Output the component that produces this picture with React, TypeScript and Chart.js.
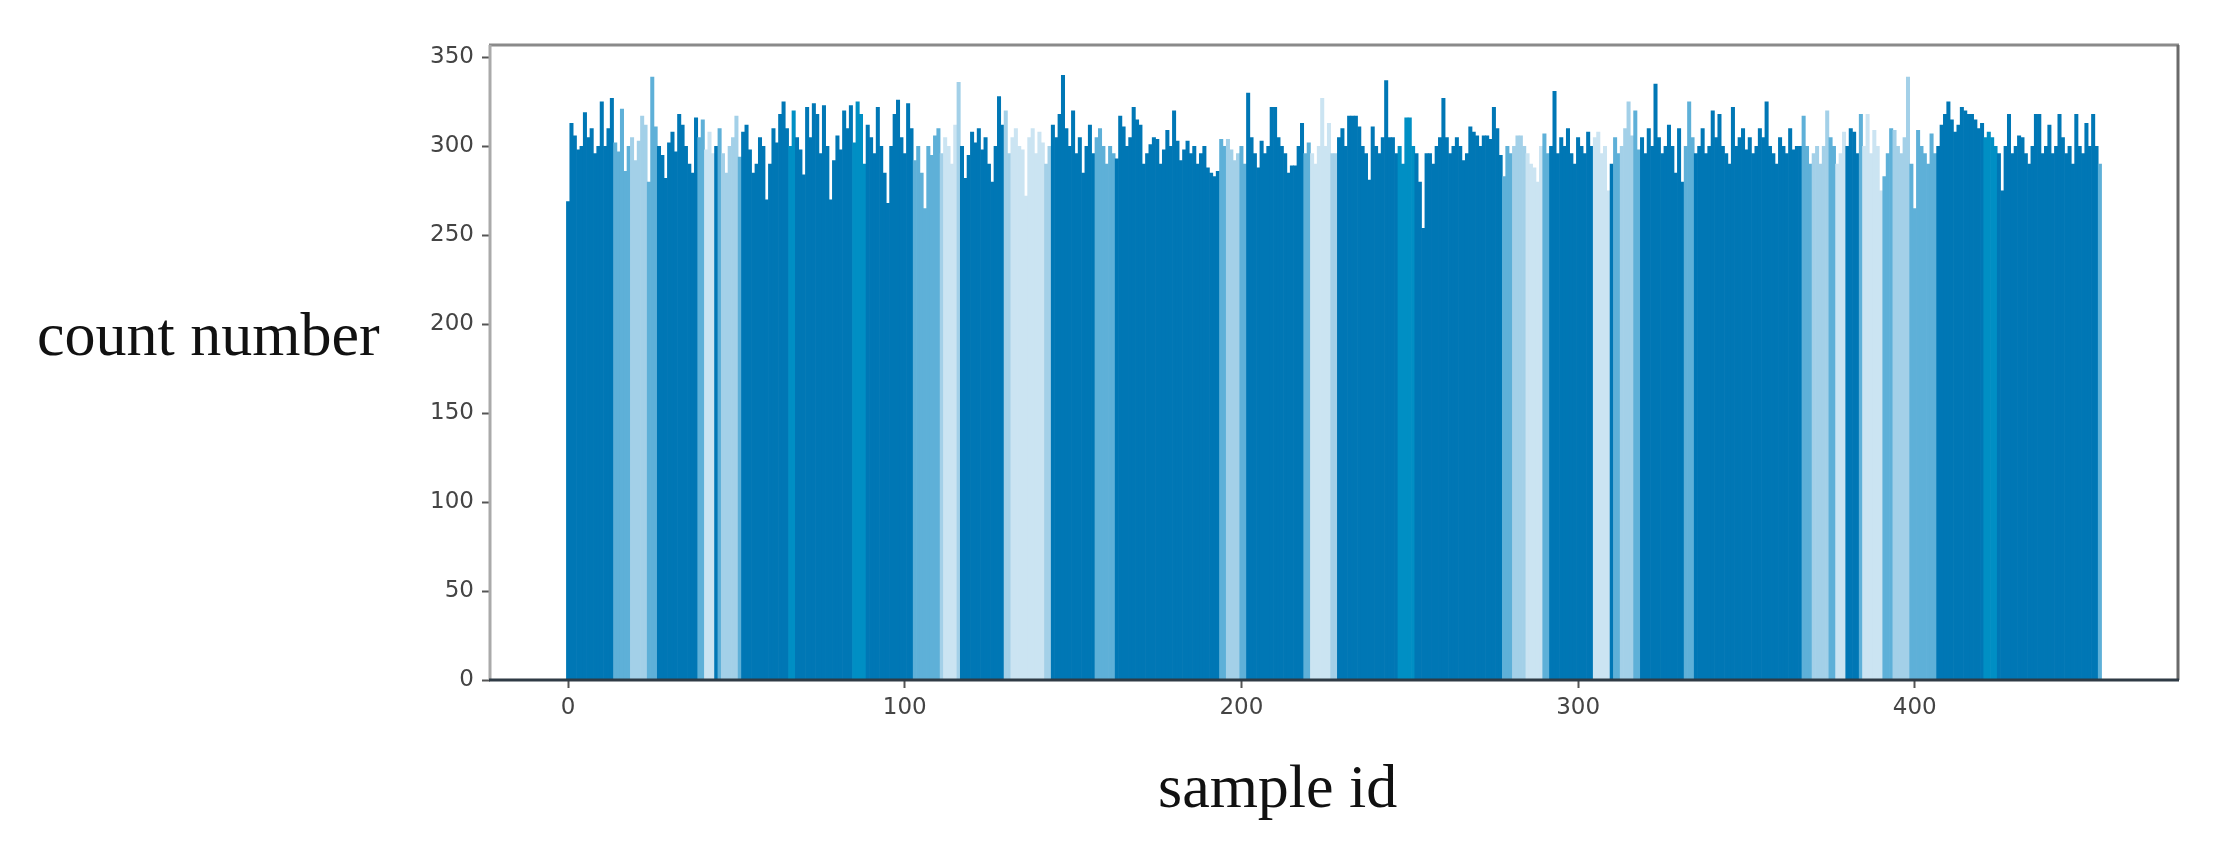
import { useEffect, useRef } from "react";
import { Chart, registerables } from "chart.js";

Chart.register(...registerables);

// count number for each sample id (0..455)
const counts: number[] = [
  269, 313, 306, 298, 300, 319, 305, 310, 296, 300,
  325, 300, 310, 327, 302, 297, 321, 286, 300, 305,
  292, 303, 317, 312, 280, 339, 311, 300, 295, 282,
  302, 308, 297, 318, 312, 300, 290, 285, 316, 305,
  315, 298, 308, 296, 300, 310, 296, 285, 300, 305,
  317, 294, 308, 312, 298, 285, 290, 305, 300, 270,
  290, 310, 302, 318, 325, 310, 300, 320, 305, 298,
  284, 322, 305, 324, 318, 296, 323, 300, 270, 292,
  306, 298, 320, 310, 323, 302, 325, 318, 290, 312,
  305, 296, 322, 300, 285, 268, 300, 318, 326, 305,
  296, 324, 310, 292, 300, 285, 265, 300, 295, 306,
  310, 296, 305, 300, 290, 312, 336, 300, 282, 295,
  308, 302, 310, 298, 305, 290, 280, 300, 328, 312,
  320, 296, 305, 310, 300, 298, 272, 305, 310, 296,
  308, 302, 290, 300, 312, 305, 318, 340, 310, 300,
  320, 296, 305, 285, 300, 312, 296, 305, 310, 300,
  290, 300, 296, 293, 317, 311, 300, 305, 322, 315,
  312, 290, 296, 301, 305, 304, 290, 298, 309, 300,
  320, 303, 292, 298, 303, 296, 300, 290, 296, 300,
  288, 285, 283, 286, 304, 300, 304, 298, 292, 296,
  300, 290, 330, 305, 296, 288, 303, 296, 300, 322,
  322, 305, 300, 296, 285, 289, 289, 300, 313, 296,
  302, 296, 290, 300, 327, 300, 313, 296, 296, 305,
  310, 300, 317, 317, 317, 311, 300, 296, 281, 311,
  300, 296, 305, 337, 305, 305, 296, 300, 290, 316,
  316, 300, 296, 280, 254, 296, 296, 290, 300, 305,
  327, 305, 296, 300, 305, 300, 292, 296, 311, 308,
  306, 300, 306, 306, 304, 322, 310, 295, 283, 300,
  296, 300, 306, 306, 300, 296, 290, 288, 280, 300,
  307, 296, 300, 331, 296, 305, 300, 310, 296, 290,
  305, 300, 296, 308, 300, 305, 308, 296, 300, 275,
  290, 305, 296, 300, 310, 325, 306, 320, 298, 305,
  296, 310, 300, 335, 305, 296, 300, 312, 300, 285,
  310, 280, 300, 325, 305, 296, 300, 310, 296, 300,
  320, 305, 318, 300, 296, 290, 322, 300, 305, 310,
  298, 305, 296, 300, 310, 305, 325, 300, 296, 290,
  305, 300, 296, 310, 298, 300, 300, 317, 300, 290,
  296, 300, 290, 300, 320, 305, 300, 290, 296, 308,
  300, 310, 308, 296, 318, 300, 318, 296, 309, 300,
  275, 283, 296, 310, 309, 300, 296, 305, 339, 290,
  265, 309, 300, 296, 290, 307, 296, 300, 312, 318,
  325, 315, 308, 312, 322, 320, 318, 318, 315, 310,
  313, 305, 308, 305, 300, 296, 275, 300, 318, 296,
  300, 306, 305, 296, 290, 300, 318, 318, 296, 300,
  312, 296, 300, 318, 305, 296, 300, 290, 318, 300,
  296, 313, 300, 318, 300, 290,
];

// runs of bar shade: [shade level, number of bars]
const shadeRuns: [number, number][] = [
  [0, 14], [2, 5], [3, 5], [2, 3], [0, 12],
  [2, 2], [4, 3], [0, 1], [2, 1], [3, 5], [2, 1],
  [0, 14], [1, 2], [0, 17], [1, 4], [0, 14],
  [2, 8], [3, 1], [4, 4], [3, 1], [0, 13],
  [3, 2], [4, 10], [3, 2], [0, 13], [2, 6], [0, 31],
  [2, 2], [3, 4], [2, 2], [0, 17], [2, 2], [4, 6], [3, 2],
  [0, 18], [1, 5], [0, 26], [2, 3], [3, 4], [4, 5], [2, 2],
  [0, 13], [4, 5], [0, 1], [2, 2], [3, 4], [2, 2], [0, 13],
  [2, 3], [0, 32], [2, 3], [3, 5], [2, 2], [4, 3], [0, 4],
  [2, 1], [4, 6], [2, 3], [3, 5], [2, 8], [0, 14], [1, 4],
  [0, 30], [2, 1],
];

const shadePalette = ["#0077b5", "#008fc4", "#5eb0d8", "#a3d0e8", "#cbe4f2"];

const xTickValues = [0, 100, 200, 300, 400];
const yTickValues = [0, 50, 100, 150, 200, 250, 300, 350];

const yAxisLabel = "count number";
const xAxisLabel = "sample id";

export default function App() {
  const ref = useRef<HTMLCanvasElement>(null);

  useEffect(() => {
    document.body.style.margin = "0";
    if (!ref.current) return;

    const shades: string[] = [];
    shadeRuns.forEach(([lvl, n]) => {
      for (let k = 0; k < n; k++) shades.push(shadePalette[lvl]);
    });
    const sampleIds = counts.map((_, i) => i);

    const framePlugin = {
      id: "frameAndLabels",
      afterDatasetsDraw(chart: any) {
        const { ctx, chartArea: a } = chart;
        ctx.save();
        ctx.lineWidth = 3;
        ctx.strokeStyle = "#8a8a8a";
        ctx.beginPath();
        ctx.moveTo(a.left - 1, a.top);
        ctx.lineTo(a.right + 1, a.top);
        ctx.stroke();
        ctx.strokeStyle = "#aaaaaa";
        ctx.beginPath();
        ctx.moveTo(a.left, a.top);
        ctx.lineTo(a.left, a.bottom);
        ctx.stroke();
        ctx.strokeStyle = "#6a6a6a";
        ctx.beginPath();
        ctx.moveTo(a.right, a.top);
        ctx.lineTo(a.right, a.bottom);
        ctx.stroke();
        ctx.strokeStyle = "#2f3b45";
        ctx.beginPath();
        ctx.moveTo(a.left - 1, a.bottom);
        ctx.lineTo(a.right + 1, a.bottom);
        ctx.stroke();
        ctx.restore();
      },
      afterDraw(chart: any) {
        const { ctx } = chart;
        ctx.save();
        ctx.fillStyle = "#111111";
        ctx.font = '62px "Liberation Serif"';
        ctx.textAlign = "left";
        ctx.textBaseline = "alphabetic";
        ctx.fillText(yAxisLabel, 37, 355);
        ctx.fillText(xAxisLabel, 1158, 807);
        ctx.restore();
      },
    };

    const tickFont = { family: "DejaVu Sans", size: 23 };

    const chart = new Chart(ref.current, {
      type: "bar",
      data: {
        datasets: [
          {
            data: sampleIds.map((x, i) => ({ x, y: counts[i] })),
            backgroundColor: shades,
            borderWidth: 0,
            barPercentage: 1.0,
            categoryPercentage: 1.0,
          },
        ],
      },
      options: {
        animation: false,
        responsive: false,
        devicePixelRatio: 1,
        layout: { padding: { top: 45, right: 44, left: 0, bottom: 0 } },
        plugins: { legend: { display: false }, tooltip: { enabled: false } },
        scales: {
          x: {
            type: "linear",
            min: -23.2,
            max: 478.2,
            offset: false,
            afterFit: (s: any) => {
              s.height = 175;
            },
            afterBuildTicks: (s: any) => {
              s.ticks = xTickValues.map((v) => ({ value: v }));
            },
            ticks: {
              font: tickFont,
              color: "#444444",
              padding: 6,
              maxRotation: 0,
              autoSkip: false,
            },
            grid: {
              display: true,
              drawOnChartArea: false,
              drawTicks: true,
              tickLength: 8,
              tickColor: "#555555",
              tickWidth: 2,
              offset: false,
            },
            border: { display: false },
          },
          y: {
            type: "linear",
            min: 0,
            max: 357,
            afterFit: (s: any) => {
              s.width = 490;
            },
            afterBuildTicks: (s: any) => {
              s.ticks = yTickValues.map((v) => ({ value: v }));
            },
            ticks: {
              font: tickFont,
              color: "#444444",
              padding: 8,
            },
            grid: {
              display: true,
              drawOnChartArea: false,
              drawTicks: true,
              tickLength: 8,
              tickColor: "#555555",
              tickWidth: 2,
            },
            border: { display: false },
          },
        },
      } as any,
      plugins: [framePlugin],
    });

    return () => chart.destroy();
  }, []);

  return (
    <div style={{ width: 2222, height: 855, background: "#ffffff" }}>
      <canvas ref={ref} width={2222} height={855} style={{ display: "block" }} />
    </div>
  );
}
